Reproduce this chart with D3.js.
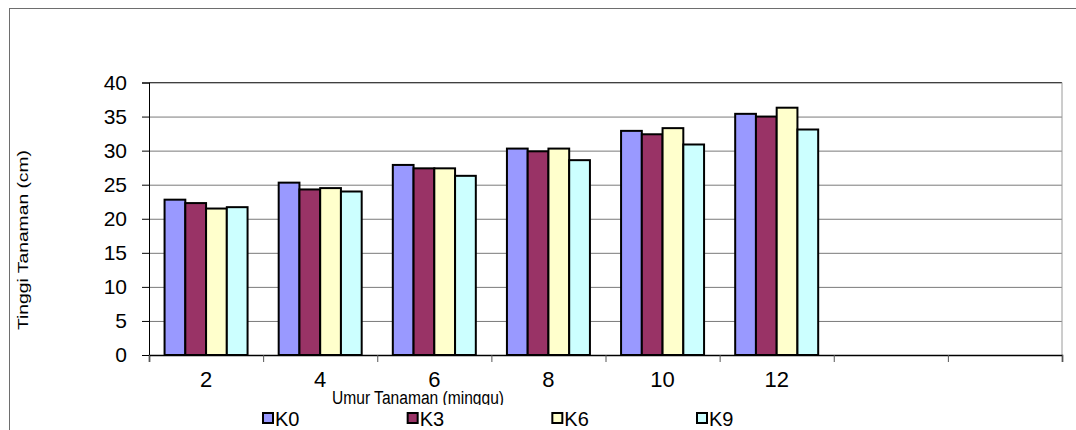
<!DOCTYPE html>
<html>
<head>
<meta charset="utf-8">
<script src="https://cdn.jsdelivr.net/npm/d3@7/dist/d3.min.js"></script>
<style>
  html, body { margin: 0; padding: 0; background: #fff; }
  svg { display: block; }
  text { font-family: "Liberation Sans", Arial, sans-serif; fill: #000; }
</style>
</head>
<body>
<script>
// Plant height per week of age, four treatments
const categories = ["2", "4", "6", "8", "10", "12", "", ""];
const seriesNames = ["K0", "K3", "K6", "K9"];
const k0 = [22.8, 25.3, 27.9, 30.3, 32.9, 35.4];
const k3 = [22.3, 24.3, 27.4, 29.9, 32.4, 35.0];
const k6 = [21.5, 24.5, 27.4, 30.3, 33.3, 36.3];
const k9 = [21.7, 24.0, 26.3, 28.6, 30.9, 33.1];
const yTicks = [0, 5, 10, 15, 20, 25, 30, 35, 40];
const colors = ["#9999FF", "#993366", "#FFFFCC", "#CCFFFF"];

const seriesValues = [k0, k3, k6, k9];

const W = 1076, H = 430;
const plot = { left: 149, right: 1062, top: 82.5, bottom: 355 };

const svg = d3.select("body").append("svg")
  .attr("width", W).attr("height", H);

// chart frame
svg.append("rect")
  .attr("x", 9.5).attr("y", 8.5)
  .attr("width", W + 20).attr("height", H + 20)
  .attr("fill", "#fff").attr("stroke", "#6e6e6e").attr("stroke-width", 1);

const x = d3.scaleBand()
  .domain(d3.range(categories.length))
  .range([plot.left, plot.right]);
const bw = x.bandwidth();
const xs = d3.scaleBand()
  .domain(seriesNames)
  .range([bw * 0.75 / 5.5, bw * 4.75 / 5.5]);
const xEdges = d3.scaleLinear()
  .domain([0, categories.length])
  .range([plot.left, plot.right]);
const y = d3.scaleLinear().domain([0, 40]).range([plot.bottom, plot.top]);

// horizontal gridlines
svg.append("g")
  .attr("transform", `translate(${plot.left},0)`)
  .call(d3.axisLeft(y).tickValues(yTicks).tickSize(-(plot.right - plot.left)).tickFormat(""))
  .call(g => g.select(".domain").remove())
  .call(g => g.selectAll("line").attr("stroke", "#7a7a7a").attr("stroke-width", 1));

// plot box top / right edges
svg.append("line")
  .attr("x1", plot.left).attr("x2", plot.right)
  .attr("y1", y(40)).attr("y2", y(40))
  .attr("stroke", "#404040").attr("stroke-width", 1);
svg.append("line")
  .attr("x1", plot.right).attr("x2", plot.right)
  .attr("y1", plot.top).attr("y2", plot.bottom)
  .attr("stroke", "#9a9a9a").attr("stroke-width", 1);

// bars
const rows = [];
seriesValues.forEach((vals, si) => {
  vals.forEach((v, ci) => rows.push({ s: seriesNames[si], si, ci, v }));
});
svg.append("g").selectAll("rect").data(rows).join("rect")
  .attr("x", d => x(d.ci) + xs(d.s))
  .attr("y", d => y(d.v))
  .attr("width", xs.bandwidth())
  .attr("height", d => y(0) - y(d.v))
  .attr("fill", d => colors[d.si])
  .attr("stroke", "#000")
  .attr("stroke-width", 2);

// y axis
const yAxis = svg.append("g")
  .attr("transform", `translate(${plot.left},0)`)
  .call(d3.axisLeft(y).tickValues(yTicks).tickSize(7).tickPadding(15));
yAxis.select(".domain").attr("stroke", "#000");
yAxis.selectAll("line").attr("stroke", "#000");
yAxis.selectAll("text").style("font-size", "21px");

// x axis: boundary ticks
const xAxisTicks = svg.append("g")
  .attr("transform", `translate(0,${plot.bottom})`)
  .call(d3.axisBottom(xEdges).tickValues(d3.range(categories.length + 1)).tickSize(7).tickFormat(""));
xAxisTicks.select(".domain").attr("stroke", "#000").attr("stroke-width", 1.5);
xAxisTicks.selectAll("line").attr("stroke", "#555");

// x axis: category labels
const xAxisLabels = svg.append("g")
  .attr("transform", `translate(0,${plot.bottom})`)
  .call(d3.axisBottom(x).tickSize(0).tickPadding(16).tickFormat(i => categories[i]));
xAxisLabels.select(".domain").remove();
xAxisLabels.selectAll("text").style("font-size", "22px");

// axis titles
svg.append("text")
  .attr("transform", "translate(28,240) rotate(-90)")
  .attr("text-anchor", "middle")
  .attr("textLength", 180)
  .attr("lengthAdjust", "spacingAndGlyphs")
  .style("font-size", "15px")
  .text("Tinggi Tanaman (cm)");

svg.append("text")
  .attr("x", 418).attr("y", 404)
  .attr("text-anchor", "middle")
  .attr("textLength", 172)
  .attr("lengthAdjust", "spacingAndGlyphs")
  .style("font-size", "18px")
  .text("Umur Tanaman (minggu)");

// legend (its white box hides the descenders of the title above)
const legend = svg.append("g");
legend.append("rect")
  .attr("x", 230).attr("y", 405)
  .attr("width", 540).attr("height", 26)
  .attr("fill", "#fff");
const legendX = d3.scalePoint().domain(seriesNames).range([262, 696]);
const items = legend.selectAll("g.item").data(seriesNames).join("g")
  .attr("class", "item")
  .attr("transform", d => `translate(${legendX(d)},412.5)`);
items.append("rect")
  .attr("x", 1).attr("y", 0.5)
  .attr("width", 10).attr("height", 10)
  .attr("fill", (d, i) => colors[i])
  .attr("stroke", "#000").attr("stroke-width", 2);
items.append("text")
  .attr("x", 13).attr("y", 13)
  .style("font-size", "20px")
  .text(d => d);
</script>
</body>
</html>
